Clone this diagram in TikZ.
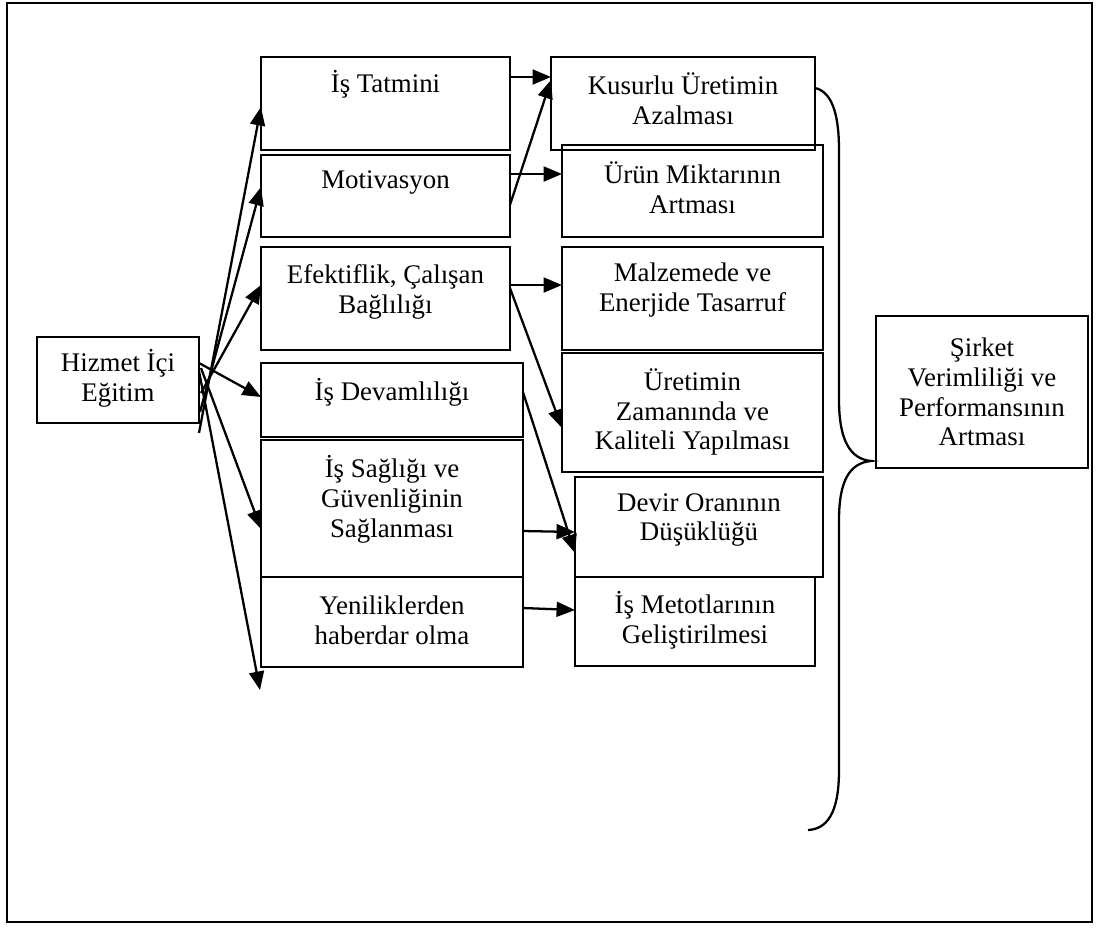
\documentclass[tikz,border=0pt]{standalone}
\usepackage{fontspec}
\setmainfont{Liberation Serif}
\usetikzlibrary{arrows.meta}
\begin{document}
\begin{tikzpicture}[x=0.02cm, y=-0.02cm,
  kutu/.style={draw, line width=1.3pt, inner sep=0pt, outer sep=0pt, anchor=north west},
  yazi/.style={align=center, inner sep=0pt, font=\fontsize{15.3}{17}\selectfont},
  ok/.style={-{Triangle[length=10.5pt,width=8.5pt]}, line width=1.3pt}]
\useasboundingbox (0,0) rectangle (1097,927);
\draw[line width=1.3pt] (7,3) rectangle (1092,922);

% sol kutu
\node[kutu, minimum width=3.24cm, minimum height=1.72cm] (hizmet) at (37,337) {};
\node[yazi] (hizmet-t) at (hizmet.north |- 0,378) {Hizmet İçi\\Eğitim};

% orta sutun
\node[kutu, minimum width=4.98cm, minimum height=1.86cm] (tatmin) at (261,57) {};
\node[yazi] (tatmin-t) at (tatmin.north |- 0,84) {İş Tatmini};
\node[kutu, minimum width=4.98cm, minimum height=1.64cm] (motiv) at (261,155) {};
\node[yazi] (motiv-t) at (motiv.north |- 0,182) {Motivasyon};
\node[kutu, minimum width=4.98cm, minimum height=2.06cm] (efekt) at (261,247) {};
\node[yazi] (efekt-t) at (efekt.north |- 0,292) {Efektiflik, Çalışan\\Bağlılığı};
\node[kutu, minimum width=5.24cm, minimum height=1.48cm] (devam) at (261,363) {};
\node[yazi] (devam-t) at (devam.north |- 0,392) {İş Devamlılığı};
\node[kutu, minimum width=5.24cm, minimum height=2.74cm] (saglik) at (261,440) {};
\node[yazi] (saglik-t) at (saglik.north |- 0,499) {İş Sağlığı ve\\Güvenliğinin\\Sağlanması};
\node[kutu, minimum width=5.24cm, minimum height=1.80cm] (yenilik) at (261,577) {};
\node[yazi] (yenilik-t) at (yenilik.north |- 0,620) {Yeniliklerden\\haberdar olma};

% sag sutun
\node[kutu, minimum width=5.28cm, minimum height=1.86cm] (kusur) at (551,57) {};
\node[yazi] (kusur-t) at (kusur.north |- 0,99) {Kusurlu Üretimin\\Azalması};
\node[kutu, minimum width=5.22cm, minimum height=1.84cm] (urun) at (562,145) {};
\node[yazi] (urun-t) at (urun.north |- 0,188) {Ürün Miktarının\\Artması};
\node[kutu, minimum width=5.22cm, minimum height=2.06cm] (malz) at (562,247) {};
\node[yazi] (malz-t) at (malz.north |- 0,290) {Malzemede ve\\Enerjide Tasarruf};
\node[kutu, minimum width=5.22cm, minimum height=2.38cm] (uretim) at (562,353) {};
\node[yazi] (uretim-t) at (uretim.north |- 0,412) {Üretimin\\Zamanında ve\\Kaliteli Yapılması};
\node[kutu, minimum width=4.96cm, minimum height=2.00cm] (devir) at (575,477) {};
\node[yazi] (devir-t) at (devir.north |- 0,520) {Devir Oranının\\Düşüklüğü};
\node[kutu, minimum width=4.80cm, minimum height=1.78cm] (metot) at (575,577) {};
\node[yazi] (metot-t) at (metot.north |- 0,620) {İş Metotlarının\\Geliştirilmesi};

% sonuc
\node[kutu, minimum width=4.24cm, minimum height=3.04cm] (sirket) at (876,316) {};
\node[yazi] (sirket-t) at (sirket.center) {Şirket\\Verimliliği ve\\Performansının\\Artması};

% oklar
\coordinate (h1) at (199,433);
\coordinate (h2) at (200,412);
\coordinate (h3) at (201,393);
\coordinate (h4) at (199,363);
\coordinate (h5) at (201,368);
\coordinate (h6) at (199,371);
\coordinate (uc) at (260,690);
\draw[ok] (h1) -- (tatmin.west |- 0,107);
\draw[ok] (h2) -- (motiv.west |- 0,187);
\draw[ok] (h3) -- (efekt.west |- 0,285);
\draw[ok] (h4) -- (devam.west |- 0,397);
\draw[ok] (h5) -- (saglik.west |- 0,529);
\draw[ok] (h6) -- (uc);

\draw[ok] (tatmin.east |- 0,77) -- (kusur.west |- 0,77);
\draw[ok] (motiv.east |- 0,205) -- (kusur.west |- 0,80);
\draw[ok] (motiv.east |- 0,174) -- (urun.west |- 0,174);
\draw[ok] (efekt.east |- 0,285) -- (malz.west |- 0,285);
\draw[ok] (efekt.east |- 0,288) -- (uretim.west |- 0,428);
\draw[ok] (devam.east |- 0,392) -- (devir.west |- 0,553);
\draw[ok] (saglik.east |- 0,531) -- (devir.west |- 0,532);
\draw[ok] (yenilik.east |- 0,608) -- (metot.west |- 0,610);

% kume parantezi
\coordinate (sivri) at (871,461);
\draw[line width=1.3pt] (kusur.east |- 0,88) .. controls (834,92) and (839,120) .. (839,150)
  -- (839,400) .. controls (839,440) and (850,459) .. (sivri)
  .. controls (850,463) and (839,480) .. (839,520)
  -- (839,770) .. controls (839,815) and (826,829) .. (808,830);
\end{tikzpicture}
\end{document}
